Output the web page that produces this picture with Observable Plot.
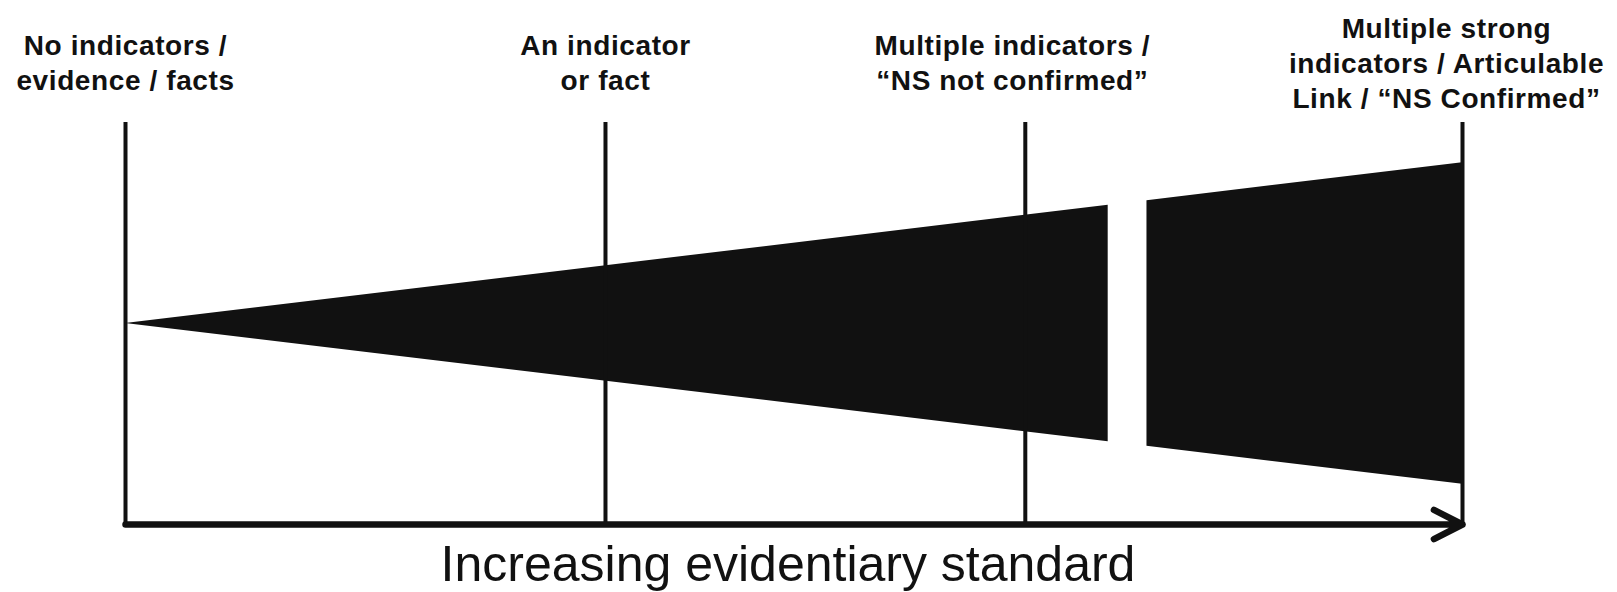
<!DOCTYPE html>
<html>
<head>
<meta charset="utf-8">
<script src="https://cdn.jsdelivr.net/npm/d3@7"></script>
<script src="https://cdn.jsdelivr.net/npm/@observablehq/plot@0.6"></script>
<style>
  html, body { margin: 0; padding: 0; background: #ffffff; }
</style>
</head>
<body>
<div id="chart"></div>
<script>
// Stages along the evidentiary scale (labels and their levels)
const stageLabels = [
  "No indicators /\nevidence / facts",
  "An indicator\nor fact",
  "Multiple indicators /\n\u201CNS not confirmed\u201D",
  "Multiple strong\nindicators / Articulable\nLink / \u201CNS Confirmed\u201D"
];
const stageLevels = [0, 3.59, 6.73, 10];

// Wedge (growing standard), split into two pieces by a gap
const wedgeLevelsA = [0, 7.35];
const wedgeSpreadA = [0, 0.735];
const wedgeLevelsB = [7.64, 10];
const wedgeSpreadB = [0.764, 1.0];

// Axis arrow
const axisRange = [0, 10];
const axisBase = -1.25;
const topLimit = 1.25;
const axisTitle = "Increasing evidentiary standard";

const stages = stageLabels.map((label, i) => ({label, level: stageLevels[i], i}));
const wedgeA = wedgeLevelsA.map((x, i) => ({x, s: wedgeSpreadA[i]}));
const wedgeB = wedgeLevelsB.map((x, i) => ({x, s: wedgeSpreadB[i]}));

const ink = "#111111";
const labelShift = [0, 0, -13, -16];

const chart = Plot.plot({
  width: 1617,
  height: 592,
  marginLeft: 125,
  marginRight: 155,
  marginTop: 122,
  marginBottom: 68,
  x: {domain: axisRange, axis: null},
  y: {domain: [axisBase, topLimit], axis: null},
  style: {background: "#ffffff"},
  marks: [
    Plot.areaY(wedgeA, {x: "x", y1: d => -d.s, y2: d => d.s, fill: ink, curve: "linear"}),
    Plot.areaY(wedgeB, {x: "x", y1: d => -d.s, y2: d => d.s, fill: ink, curve: "linear"}),
    Plot.ruleX(stages, {x: "level", y1: axisBase, y2: topLimit, stroke: ink, strokeWidth: 4}),
    Plot.arrow([axisRange], {
      x1: d => d[0], x2: d => d[1], y1: axisBase, y2: axisBase,
      stroke: ink, strokeWidth: 6.5, headLength: 7.4, headAngle: 54,
      strokeLinecap: "round", strokeLinejoin: "round"
    }),
    ...stages.map(s => Plot.text([s], {
      x: "level", text: "label", frameAnchor: "top", dy: -61, dx: labelShift[s.i],
      lineAnchor: "middle", textAnchor: "middle", lineHeight: 1.25,
      fontSize: 28, fontWeight: "bold", fill: ink,
      fontFamily: "'Liberation Sans', Arial, Helvetica, sans-serif"
    })),
    Plot.text([axisTitle], {
      x: () => d3.mean(axisRange), text: d => d, frameAnchor: "bottom", dy: 40, dx: -6,
      lineAnchor: "middle", textAnchor: "middle",
      fontSize: 50, fontWeight: "normal", fill: ink,
      fontFamily: "'Liberation Sans', Arial, Helvetica, sans-serif"
    })
  ]
});

// slight letter spacing on the stage labels to match the reference width
d3.select(chart).selectAll('g[aria-label="text"]').each(function(d, i) {
  if (i < stageLabels.length) d3.select(this).attr("letter-spacing", "0.6");
});

document.getElementById("chart").appendChild(chart);
</script>
</body>
</html>
